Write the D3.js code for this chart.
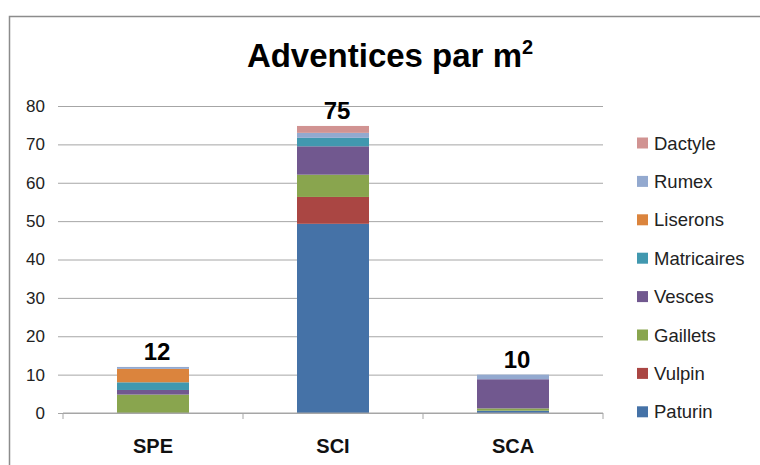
<!DOCTYPE html>
<html>
<head>
<meta charset="utf-8">
<script src="https://cdn.jsdelivr.net/npm/d3@7"></script>
<style>
  body { margin: 0; background: #fff; }
  svg { display: block; font-family: "Liberation Sans", Arial, sans-serif; }
</style>
</head>
<body>
<svg width="760" height="465"></svg>
<script>
//--Data
const categories = ["SPE", "SCI", "SCA"];
const totalLabels = ["12", "75", "10"];
const species = ["Paturin", "Vulpin", "Gaillets", "Vesces", "Matricaires", "Liserons", "Rumex", "Dactyle"];
const colors = ["#4572A7", "#AA4643", "#89A54E", "#71588F", "#4198AF", "#DB843D", "#93A9CF", "#D19392"];
const paturin = [0, 49.3, 0.6];
const vulpin = [0, 7.0, 0];
const gaillets = [4.8, 5.8, 0.6];
const vesces = [1.2, 7.4, 7.6];
const matricaires = [2.0, 2.2, 0];
const liserons = [3.5, 0, 0];
const rumex = [0.5, 1.3, 1.2];
const dactyle = [0, 1.8, 0];
const yTicks = [0, 10, 20, 30, 40, 50, 60, 70, 80];

const series = [paturin, vulpin, gaillets, vesces, matricaires, liserons, rumex, dactyle];
const table = categories.map((c, i) => {
  let row = {cat: c};
  species.forEach((s, k) => { row[s] = series[k][i]; });
  return row;
});

//--Layout
let chart = { left: 63, right: 603, top: 106, bottom: 413 };

let svg = d3.select("svg");

//Outer frame
svg.append("rect")
  .attr("x", 9.5)
  .attr("y", 16.5)
  .attr("width", 800)
  .attr("height", 500)
  .attr("fill", "none")
  .attr("stroke", "#8c8c8c")
  .attr("stroke-width", 1.5);

let x = d3.scaleBand()
  .domain(categories)
  .range([chart.left, chart.right])
  .paddingInner(0.6)
  .paddingOuter(0.3);

let y = d3.scaleLinear()
  .domain([0, 80])
  .range([chart.bottom, chart.top]);

//Gridlines + y labels
let yAxis = svg.append("g")
  .attr("transform", "translate(" + chart.left + ",0)")
  .call(d3.axisLeft(y).tickValues(yTicks).tickSize(-(chart.right - chart.left + 5)).tickSizeOuter(0));
yAxis.select(".domain").remove();
yAxis.selectAll(".tick line")
  .attr("x1", -5)
  .attr("x2", chart.right - chart.left)
  .attr("stroke", "#a6a6a6");
yAxis.selectAll(".tick text")
  .attr("x", -18)
  .style("font-size", "17px")
  .style("font-family", "Liberation Sans, Arial, sans-serif")
  .attr("fill", "#222");

//Stacked bars
let stack = d3.stack().keys(species)(table);
svg.append("g")
  .selectAll("g")
  .data(stack)
  .join("g")
  .attr("fill", (d, i) => colors[i])
  .selectAll("rect")
  .data(d => d)
  .join("rect")
  .attr("x", d => x(d.data.cat))
  .attr("width", x.bandwidth())
  .attr("y", d => y(d[1]))
  .attr("height", d => y(d[0]) - y(d[1]));

//X axis
let xAxis = svg.append("g")
  .attr("transform", "translate(0," + chart.bottom + ")");
xAxis.append("line")
  .attr("x1", chart.left)
  .attr("x2", chart.right)
  .attr("stroke", "#a6a6a6");
let edges = [0, 1, 2, 3].map(i => chart.left + i * x.step());
xAxis.selectAll(".cat-tick")
  .data(edges)
  .join("line")
  .attr("x1", d => d)
  .attr("x2", d => d)
  .attr("y1", 0)
  .attr("y2", 6)
  .attr("stroke", "#a6a6a6");
xAxis.selectAll("text")
  .data(categories)
  .join("text")
  .attr("x", d => x(d) + x.bandwidth() / 2)
  .attr("y", 40)
  .attr("text-anchor", "middle")
  .style("font-size", "20px")
  .style("font-weight", "bold")
  .attr("fill", "#111")
  .text(d => d);

//Totals above bars
let totals = categories.map((c, i) => d3.sum(series, s => s[i]));
svg.append("g")
  .selectAll("text")
  .data(categories)
  .join("text")
  .attr("x", d => x(d) + x.bandwidth() / 2 + 4)
  .attr("y", (d, i) => y(totals[i]) - 7)
  .attr("text-anchor", "middle")
  .style("font-size", "24px")
  .style("font-weight", "bold")
  .attr("fill", "#000")
  .text((d, i) => totalLabels[i]);

//Title
let title = svg.append("text")
  .attr("x", 390)
  .attr("y", 67)
  .attr("text-anchor", "middle")
  .style("font-size", "33px")
  .style("font-weight", "bold")
  .attr("fill", "#000");
title.append("tspan").text("Adventices par m");
title.append("tspan")
  .attr("dy", -13)
  .style("font-size", "20px")
  .text("2");

//Legend
let legendItems = species.slice().reverse();
let legendColors = colors.slice().reverse();
let legend = svg.append("g")
  .selectAll("g")
  .data(legendItems)
  .join("g")
  .attr("transform", (d, i) => "translate(637," + (143 + i * 38.4) + ")");
legend.append("rect")
  .attr("x", 0)
  .attr("y", -5.5)
  .attr("width", 11)
  .attr("height", 11)
  .attr("fill", (d, i) => legendColors[i]);
legend.append("text")
  .attr("x", 17)
  .attr("y", 6.5)
  .style("font-size", "18.5px")
  .attr("fill", "#222")
  .text(d => d);
</script>
</body>
</html>
